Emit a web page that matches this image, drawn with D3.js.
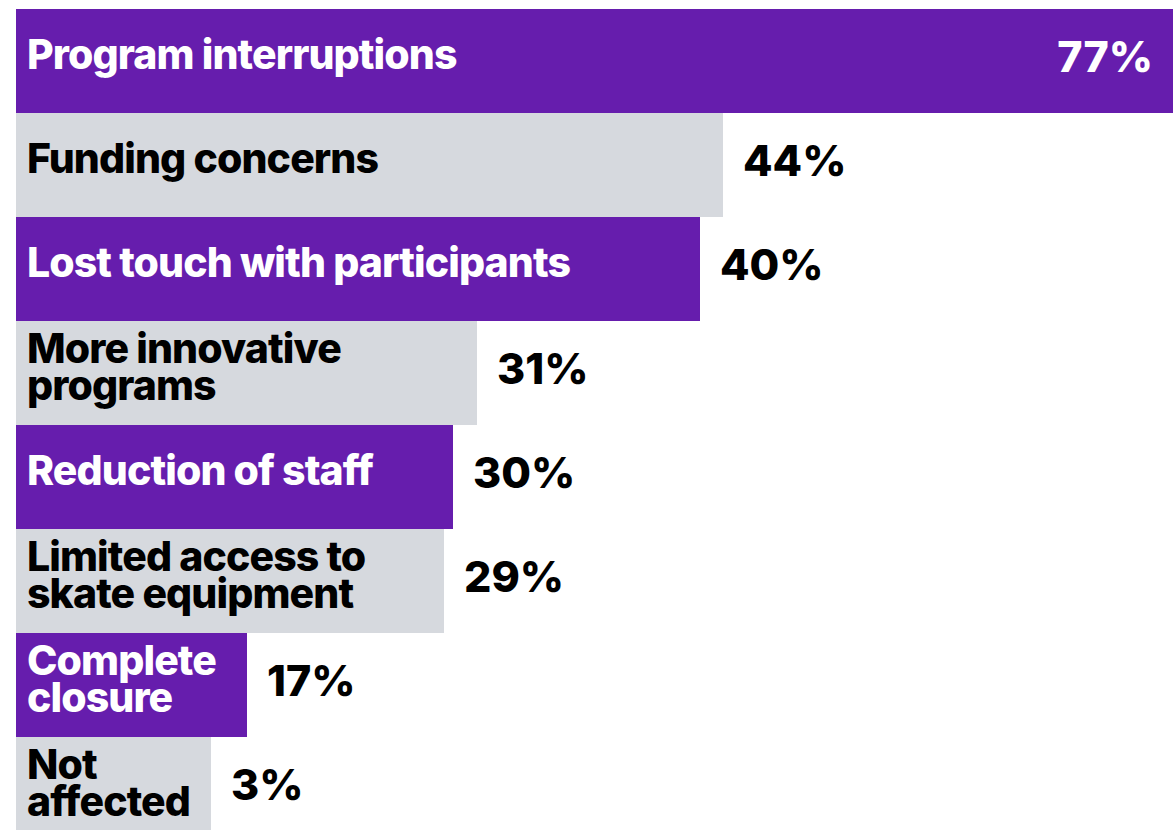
<!DOCTYPE html>
<html>
<head>
<meta charset="utf-8">
<script src="https://cdn.jsdelivr.net/npm/d3@7"></script>
<style>
  html, body { margin: 0; padding: 0; background: #ffffff; }
  svg { display: block; }
  text { font-family: Inter, "Noto Sans", sans-serif; }
</style>
</head>
<body>
<svg id="chart" width="1173" height="830"></svg>
<script>
// ---- data ----
const categories = [
  "Program interruptions",
  "Funding concerns",
  "Lost touch with participants",
  "More innovative\nprograms",
  "Reduction of staff",
  "Limited access to\nskate equipment",
  "Complete\nclosure",
  "Not\naffected"
];
const values = [77, 44, 40, 31, 30, 29, 17, 3];
const valueLabels = ["77%", "44%", "40%", "31%", "30%", "29%", "17%", "3%"];

// ---- layout / style ----
const W = 1173, H = 830;
const marginLeft = 16, marginTop = 9, rowH = 104;
const purple = "#661dad", grey = "#d6d9de";
const labelSize = 41, valueSize = 43;

const svg = d3.select("#chart");

const y = d3.scaleBand()
  .domain(categories)
  .range([marginTop, marginTop + rowH * categories.length])
  .padding(0);

// Bar lengths in the original design are not proportional; a polylinear scale
// reproduces the designer's mapping from percentage to bar length.
const sortedVals = [0].concat(values.slice().sort((a, b) => a - b));
const x = d3.scaleLinear()
  .domain(sortedVals)
  .range([0, 195, 231, 428, 437, 461, 684, 707, 1157]);

const rows = categories.map((c, i) => ({ cat: c, v: values[i], lab: valueLabels[i], i }));

const g = svg.selectAll("g.row").data(rows).join("g").attr("class", "row");

g.append("rect")
  .attr("x", marginLeft)
  .attr("y", d => y(d.cat))
  .attr("width", d => x(d.v))
  .attr("height", y.bandwidth())
  .attr("fill", d => d.i % 2 === 0 ? purple : grey);

// category labels
g.each(function(d) {
  const lines = d.cat.split("\n");
  const c = y(d.cat) + y.bandwidth() / 2;
  const t = d3.select(this).append("text")
    .attr("x", 27)
    .attr("font-size", labelSize)
    .attr("font-weight", 800)
    .attr("letter-spacing", -0.9)
    .attr("fill", d.i % 2 === 0 ? "#ffffff" : "#000000");
  if (lines.length === 1) {
    t.append("tspan").attr("x", 27).attr("y", c + 8).text(lines[0]);
  } else {
    t.append("tspan").attr("x", 27).attr("y", c - 10).text(lines[0]);
    t.append("tspan").attr("x", 27).attr("y", c + 27).text(lines[1]);
  }
});

// value labels
g.each(function(d) {
  const c = y(d.cat) + y.bandwidth() / 2;
  const end = marginLeft + x(d.v);
  const t = d3.select(this).append("text")
    .attr("y", c + 11)
    .attr("font-size", valueSize)
    .attr("font-weight", 800)
    .attr("letter-spacing", 0)
    .text(d.lab);
  const w = t.node().getComputedTextLength();
  if (end + 20 + w > W) {
    t.attr("x", W - 20).attr("text-anchor", "end").attr("fill", "#ffffff");
  } else {
    t.attr("x", end + 20).attr("fill", "#000000");
  }
});
</script>
</body>
</html>
